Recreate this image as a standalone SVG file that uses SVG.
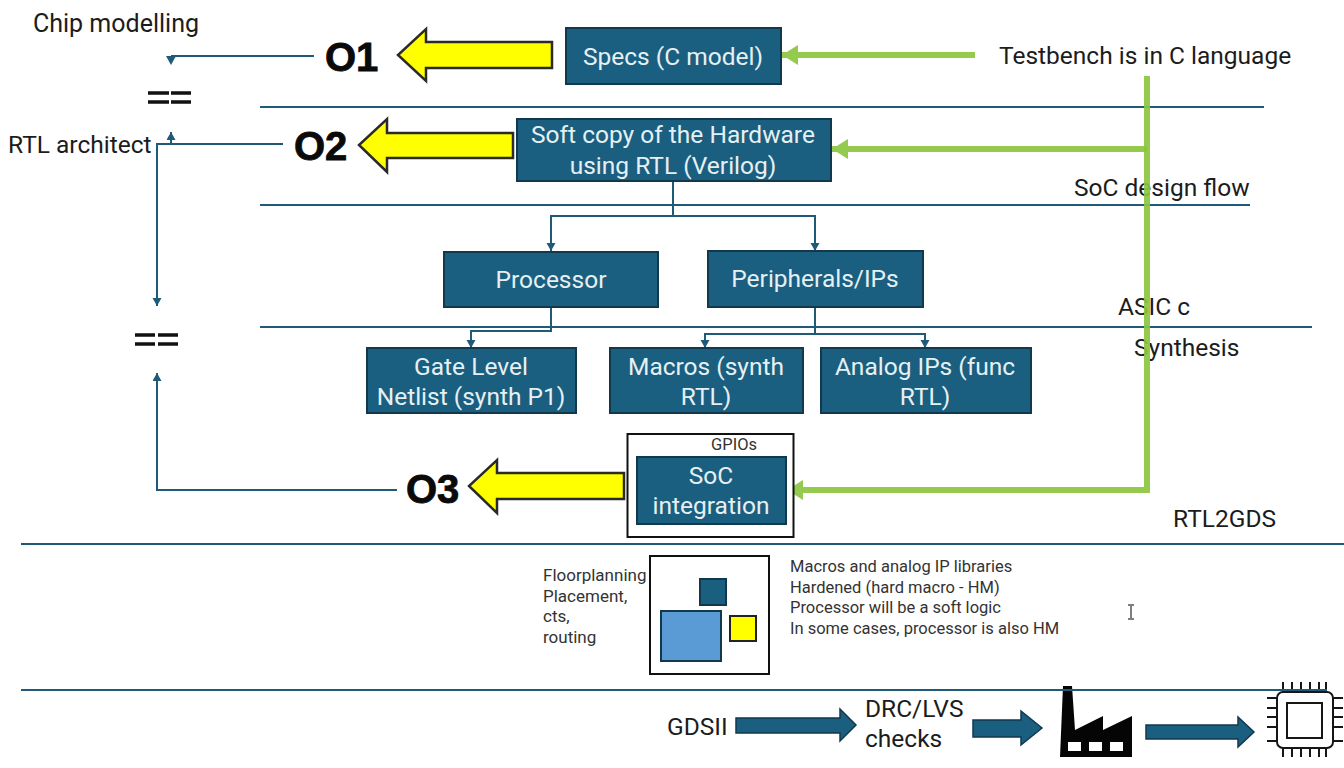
<svg xmlns="http://www.w3.org/2000/svg" width="1344" height="768" viewBox="0 0 1344 768">
<style>
text{font-family:Roboto,"Liberation Sans",sans-serif;fill:#1c1c1c}
.box rect,rect.box{fill:#1a5f80;stroke:#12384d;stroke-width:2}
.w{fill:#e6f0f3;font-size:24.500px;text-anchor:middle}
.l{font-size:24.500px}
.s{font-size:16.500px;fill:#333}
.f{font-size:17px;fill:#333}
.o{font-family:"Liberation Sans",sans-serif;font-weight:700;font-size:40px;fill:#0a0a0a;stroke:#0a0a0a;stroke-width:.8}
.rule{stroke:#1f5a78;stroke-width:2;fill:none}
.c{stroke:#1f5a78;stroke-width:2;fill:none}
.g{stroke:#8cc63f;stroke-width:6;fill:none;opacity:.92}
.y{fill:#ffff00;stroke:#2a2a2a;stroke-width:2.500}
.a{fill:#1a5f80;stroke:#12384d;stroke-width:1.500}
.eq{stroke:#111;stroke-width:3.500}
</style>
<defs>
<marker id="ah" markerUnits="userSpaceOnUse" markerWidth="10" markerHeight="10" refX="8" refY="4.500" orient="auto"><path d="M0 0L8 4.500L0 9z" fill="#1f5a78"/></marker>
<marker id="gh" markerUnits="userSpaceOnUse" markerWidth="18" markerHeight="22" refX="16" refY="11" orient="auto"><path d="M0 1L16 11L0 21z" fill="#8cc63f"/></marker>
</defs>
<rect width="1344" height="768" fill="#fff"/>
<g id="labels">
<text class="l" x="33" y="32" font-size="25" style="font-size:25px">Chip modelling</text>
<text class="l" x="8" y="153">RTL architect</text>
<text class="l" x="999" y="64">Testbench is in C language</text>
<text class="l" x="1074" y="196">SoC design flow</text>
<text class="l" x="1118" y="315">ASIC c</text>
<text class="l" x="1134" y="356">Synthesis</text>
<text class="l" x="1173" y="527">RTL2GDS</text>
<text class="l" x="667" y="735">GDSII</text>
<text class="l" x="865" y="717">DRC/LVS</text>
<text class="l" x="865" y="747">checks</text>
<text class="o" x="325" y="71">O1</text>
<text class="o" x="294" y="160">O2</text>
<text class="o" x="406" y="503">O3</text>
<text class="f" x="543" y="581">Floorplanning</text>
<text class="f" x="543" y="602">Placement,</text>
<text class="f" x="543" y="622">cts,</text>
<text class="f" x="543" y="643">routing</text>
<text class="s" x="790" y="572">Macros and analog IP libraries</text>
<text class="s" x="790" y="593">Hardened (hard macro - HM)</text>
<text class="s" x="790" y="613">Processor will be a soft logic</text>
<text class="s" x="790" y="634">In some cases, processor is also HM</text>
</g>
<g id="rules">
<path class="rule" d="M260 107H1264M260 205H1250M260 327H1312M21 544H1344"/>
</g>
<g id="connectors">
<path class="c" d="M314 56H171"/><path d="M166 56H176L171 65z" fill="#1f5a78"/>
<path class="c" d="M283 144H157V306" marker-end="url(#ah)"/>
<path class="c" d="M171 144V132" marker-end="url(#ah)"/>
<path class="c" d="M397 490H157V373" marker-end="url(#ah)"/>
<path class="c" d="M673 181V216H551V251" marker-end="url(#ah)"/>
<path class="c" d="M673 216H815V251" marker-end="url(#ah)"/>
<path class="c" d="M551 307V331H471V348" marker-end="url(#ah)"/>
<path class="c" d="M815 307V334H705V348" marker-end="url(#ah)"/>
<path class="c" d="M815 334H925V348" marker-end="url(#ah)"/>
<path class="g" d="M975 55H782" marker-end="url(#gh)"/>
<path class="g" d="M1147 76V490H787" marker-end="url(#gh)"/>
<path class="g" d="M1147 149H832" marker-end="url(#gh)"/>
</g>
<g id="yellow-arrows">
<path class="y" d="M552 42V68H426V81L398 55L426 29V42z"/>
<path class="y" d="M513 133V158H387V172L359 145L387 119V133z"/>
<path class="y" d="M624 473V499H497V513L469 486L497 460V473z"/>
</g>
<g id="specs"><rect class="box" x="566" y="28" width="215" height="56"/><text class="w" x="673" y="65">Specs (C model)</text></g>
<g id="softcopy"><rect class="box" x="517" y="119" width="314" height="62"/><text class="w" x="673" y="143">Soft copy of the Hardware</text><text class="w" x="673" y="174">using RTL (Verilog)</text></g>
<g id="processor"><rect class="box" x="444" y="252" width="214" height="55"/><text class="w" x="551" y="288">Processor</text></g>
<g id="peripherals"><rect class="box" x="708" y="251" width="215" height="56"/><text class="w" x="815" y="287">Peripherals/IPs</text></g>
<g id="netlist"><rect class="box" x="367" y="348" width="209" height="65"/><text class="w" x="471" y="375">Gate Level</text><text class="w" x="471" y="405">Netlist (synth P1)</text></g>
<g id="macros"><rect class="box" x="610" y="348" width="193" height="65"/><text class="w" x="706" y="375">Macros (synth</text><text class="w" x="706" y="405">RTL)</text></g>
<g id="analog"><rect class="box" x="821" y="348" width="210" height="65"/><text class="w" x="925" y="375">Analog IPs (func</text><text class="w" x="925" y="405">RTL)</text></g>
<g id="soc">
<rect x="627.500" y="434" width="166" height="103" fill="#fff" stroke="#111" stroke-width="2"/>
<rect class="box" x="637" y="457" width="149" height="67"/>
<text class="s" x="711" y="450">GPIOs</text>
<text class="w" x="711" y="484">SoC</text><text class="w" x="711" y="514">integration</text>
</g>
<g id="floorplan">
<rect x="650" y="556" width="119" height="118" fill="#fff" stroke="#111" stroke-width="2"/>
<rect x="700" y="579" width="26" height="26" fill="#1a5f80" stroke="#12384d" stroke-width="2"/>
<rect x="661" y="611" width="60" height="50" fill="#5b9bd5" stroke="#12384d" stroke-width="2"/>
<rect x="730" y="616" width="26" height="25" fill="#ffff00" stroke="#222" stroke-width="2"/>
</g>
<g id="equals">
<path class="eq" d="M148 93H169M171 93H191M148 102H169M171 102H191"/>
<path class="eq" d="M135 335H155M158 335H178M135 344H155M158 344H178"/>
</g>
<g id="cursor"><path d="M1131 606V618M1128 605H1134M1128 619H1134" stroke="#555" stroke-width="1.500" fill="none"/></g>
<g id="flow-arrows">
<path class="a" d="M736 718H840V709L856 725L840 741V733H736z"/>
<path class="a" d="M973 720H1021V711L1042 728L1021 745V737H973z"/>
<path class="a" d="M1146 725H1238V717L1254 732L1238 747V739H1146z"/>
</g>
<g id="factory">
<path d="M1060 757L1063 686H1072L1075 730L1103 716V730L1132 716V757z" fill="#050505"/>
<rect x="1068" y="742" width="13" height="9" fill="#fff"/><rect x="1089" y="742" width="13" height="9" fill="#fff"/><rect x="1110" y="742" width="13" height="9" fill="#fff"/>
</g>
<g id="chip" fill="none" stroke="#161616" stroke-width="2">
<rect x="1277" y="692" width="56" height="56" rx="6" fill="#fff"/>
<rect x="1287" y="703" width="35" height="35"/>
<path d="M1283 682V692M1292 682V692M1301 682V692M1310 682V692M1319 682V692M1326 682V692M1283 748V757M1292 748V757M1301 748V757M1310 748V757M1319 748V757M1326 748V757M1267 698H1277M1267 708H1277M1267 717H1277M1267 727H1277M1267 741H1277M1333 698H1343M1333 708H1343M1333 717H1343M1333 727H1343M1333 741H1343"/>
</g>
<path id="bottom-rule" class="rule" d="M21 690H1327"/>
</svg>
